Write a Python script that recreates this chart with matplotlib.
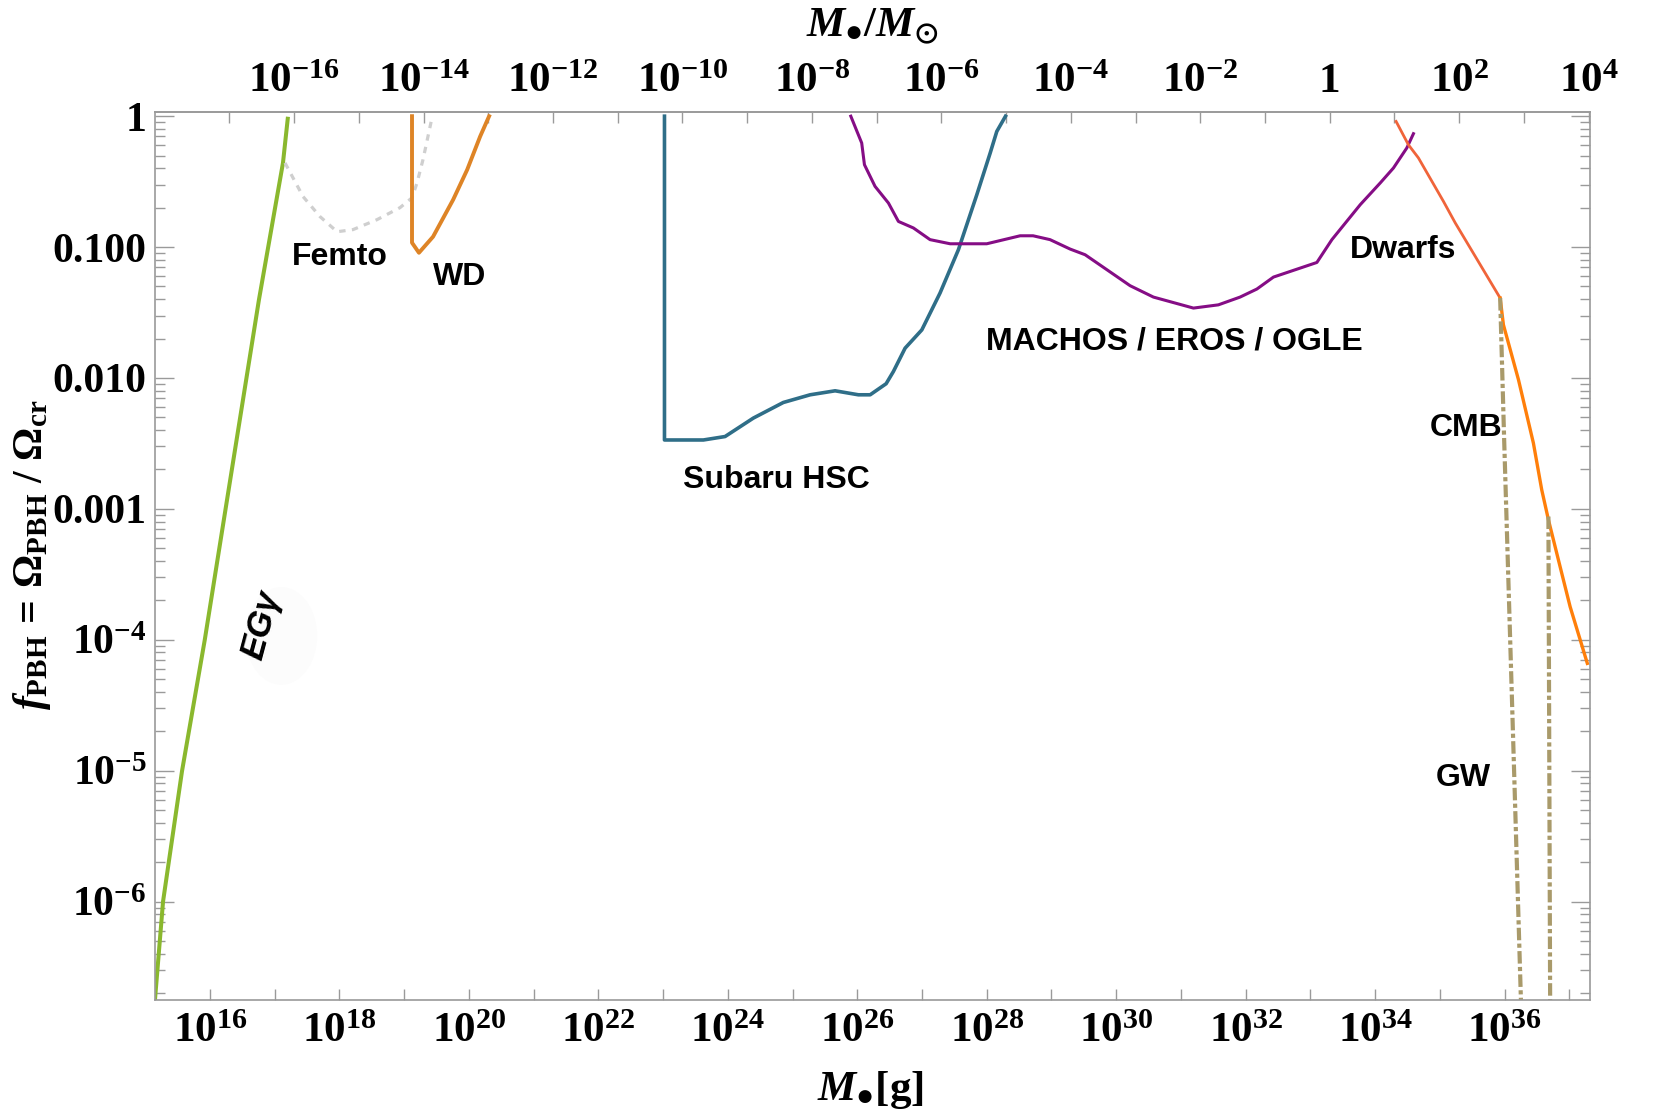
import matplotlib
matplotlib.use("Agg")
import matplotlib.pyplot as plt
from matplotlib.ticker import FixedLocator, FixedFormatter, NullFormatter, LogLocator
from matplotlib.patches import Ellipse

MSUN = 1.989e33  # grams

# ---- data (mass in g, f_PBH) ----
egamma_m = [1.41e15, 1.88e15, 3.69e15, 8.3e15, 1.74e16, 5.7e16, 1.34e17, 1.60e17]
egamma_f = [1.77e-7, 1.0e-6, 9.9e-6, 1.0e-4, 1.0e-3, 0.0396, 0.44, 0.99]

femto_m = [1.44e17, 2.74e17, 5.0e17, 9.2e17, 1.62e18, 3.8e18, 8.6e18, 1.32e19, 1.58e19, 1.95e19, 2.69e19]
femto_f = [0.44, 0.243, 0.171, 0.131, 0.136, 0.162, 0.2, 0.238, 0.31, 0.465, 0.975]

wd_m = [1.32e19, 1.32e19, 1.69e19, 2.79e19, 5.7e19, 9.4e19, 1.49e20, 2.05e20]
wd_f = [1.0, 0.108, 0.0905, 0.12, 0.23, 0.39, 0.70, 1.0]

subaru_m = [1.05e23, 1.05e23, 4.19e23, 9.06e23, 2.48e24, 7.2e24, 1.87e25, 4.54e25, 1.04e26,
            1.58e26, 2.79e26, 3.61e26, 5.48e26, 9.93e26, 1.90e27, 3.65e27, 7.02e27, 1.13e28,
            1.43e28, 1.95e28]
subaru_f = [1.0, 0.00336, 0.00336, 0.00357, 0.00494, 0.0065, 0.00744, 0.00798, 0.00744,
            0.00744, 0.00904, 0.0112, 0.0169, 0.0233, 0.0446, 0.0955, 0.251, 0.523,
            0.765, 1.0]

macho_m = [7.94e25, 1.17e26, 1.29e26, 1.88e26, 3.03e26, 4.32e26, 7.36e26, 1.33e27, 2.72e27,
           1.0e28, 3.28e28, 5.2e28, 9.5e28, 1.94e29, 3.31e29, 7.2e29, 1.64e30, 3.76e30,
           1.56e31, 3.79e31, 8.2e31, 1.49e32, 2.69e32, 1.26e33, 2.15e33, 5.9e33, 1.20e34,
           1.92e34, 3.09e34, 3.91e34]
macho_f = [1.0, 0.624, 0.426, 0.291, 0.217, 0.157, 0.140, 0.114, 0.106,
           0.106, 0.122, 0.122, 0.114, 0.0966, 0.0874, 0.0671, 0.0507, 0.0415,
           0.0342, 0.0362, 0.0415, 0.0478, 0.059, 0.0763, 0.114, 0.211, 0.309,
           0.402, 0.572, 0.735]

dwarf_m = [2.11e34, 3.27e34, 4.67e34, 1.14e35, 1.73e35, 8.55e35]
dwarf_f = [0.912, 0.605, 0.48, 0.223, 0.153, 0.0408]

cmb_m = [8.55e35, 9.6e35, 1.64e36, 2.79e36, 3.75e36, 4.76e36, 7.2e36, 1.03e37, 1.90e37]
cmb_f = [0.0408, 0.0255, 0.0097, 0.00318, 0.0014, 8.26e-4, 3.63e-4, 1.79e-4, 6.6e-5]

gw1_m = [8.55e35, 9.86e35, 1.33e36, 1.79e36]
gw1_f = [0.0408, 0.00337, 2.44e-5, 1.77e-7]
gw2_m = [4.76e36, 5.06e36]
gw2_f = [8.74e-4, 1.77e-7]

x_major = [1e16, 1e18, 1e20, 1e22, 1e24, 1e26, 1e28, 1e30, 1e32, 1e34, 1e36]
x_major_labels = ['$\\mathdefault{10^{%d}}$' % e for e in range(16, 37, 2)]
x_minor = [1e17, 1e19, 1e21, 1e23, 1e25, 1e27, 1e29, 1e31, 1e33, 1e35, 1e37]

top_major = [1e-16, 1e-14, 1e-12, 1e-10, 1e-8, 1e-6, 1e-4, 1e-2, 1, 1e2, 1e4]
top_major_labels = ['$\\mathdefault{10^{-16}}$', '$\\mathdefault{10^{-14}}$', '$\\mathdefault{10^{-12}}$',
                    '$\\mathdefault{10^{-10}}$', '$\\mathdefault{10^{-8}}$', '$\\mathdefault{10^{-6}}$',
                    '$\\mathdefault{10^{-4}}$', '$\\mathdefault{10^{-2}}$', '1',
                    '$\\mathdefault{10^{2}}$', '$\\mathdefault{10^{4}}$']
top_minor = [1e-17, 1e-15, 1e-13, 1e-11, 1e-9, 1e-7, 1e-5, 1e-3, 1e-1, 1e1, 1e3]

y_major = [1e-6, 1e-5, 1e-4, 1e-3, 1e-2, 1e-1, 1]
y_major_labels = ['$\\mathdefault{10^{-6}}$', '$\\mathdefault{10^{-5}}$', '$\\mathdefault{10^{-4}}$',
                  '0.001', '0.010', '0.100', '1']

# ---- style ----
plt.rcParams['font.family'] = ['Liberation Serif', 'DejaVu Serif']
plt.rcParams['font.weight'] = 'bold'
plt.rcParams['mathtext.fontset'] = 'custom'
plt.rcParams['mathtext.rm'] = 'Liberation Serif:bold'
plt.rcParams['mathtext.it'] = 'Liberation Serif:italic:bold'
plt.rcParams['mathtext.bf'] = 'Liberation Serif:bold'
plt.rcParams['mathtext.fallback'] = 'stix'

GREY = '#9a9a9a'
W, H = 1655, 1115

fig = plt.figure(figsize=(W / 100, H / 100), dpi=100)
ax = fig.add_axes([155 / W, 1 - 1000 / H, 1435 / W, 888 / H])

ax.set_xscale('log')
ax.set_yscale('log')
ax.set_xlim(10 ** 15.15, 10 ** 37.32)
ax.set_ylim(10 ** -6.752, 10 ** 0.032)

ax.plot(egamma_m, egamma_f, color='#8ab82e', lw=2.9, solid_capstyle='butt')
ax.plot(femto_m, femto_f, color='#cfcfcf', lw=2.3, linestyle=(0, (2, 2)))
ax.plot(wd_m, wd_f, color='#de8426', lw=2.8)
ax.plot(subaru_m, subaru_f, color='#2f6e88', lw=2.6)
ax.plot(macho_m, macho_f, color='#850d85', lw=2.2)
ax.plot(dwarf_m, dwarf_f, color='#f0643a', lw=2.0)
ax.plot(cmb_m, cmb_f, color='#ff7f0a', lw=2.4)
ax.plot(gw1_m, gw1_f, color='#a99a6a', lw=3.0, linestyle=(0, (3.0, 0.8, 1.0, 0.8)),
        dash_capstyle='butt')
ax.plot(gw2_m, gw2_f, color='#a99a6a', lw=3.0, linestyle=(0, (3.0, 0.8, 1.0, 0.8)),
        dash_capstyle='butt')

# barely visible halo behind the EG gamma label
ax.add_patch(Ellipse((0.088, 0.41), 0.05, 0.11, transform=ax.transAxes,
                     facecolor='#fcfcfc', edgecolor='none', zorder=0))

# ---- labels on curves ----
def put(text, px, py, **kw):
    opts = dict(family='Liberation Sans', weight='bold', fontsize=23, ha='center', va='center')
    opts.update(kw)
    fig.text(px / W, 1 - py / H, text, **opts)


put('Femto', 340, 257)
put('WD', 460, 277)
put('Subaru HSC', 776, 480)
put('MACHOS / EROS / OGLE', 1174, 341)
put('Dwarfs', 1403, 250)
put('CMB', 1466, 428)
put('GW', 1463, 778)
put('EG\u03b3', 261, 625, style='italic', fontsize=25, rotation=75)

# ---- ticks ----
ax.xaxis.set_major_locator(FixedLocator(x_major))
ax.xaxis.set_major_formatter(FixedFormatter(x_major_labels))
ax.xaxis.set_minor_locator(FixedLocator(x_minor))
ax.xaxis.set_minor_formatter(NullFormatter())

ax.yaxis.set_major_locator(FixedLocator(y_major))
ax.yaxis.set_major_formatter(FixedFormatter(y_major_labels))
ax.yaxis.set_minor_locator(LogLocator(base=10, subs=range(2, 10), numticks=20))
ax.yaxis.set_minor_formatter(NullFormatter())

ax.tick_params(axis='x', which='both', direction='in', length=8, width=1, color=GREY,
               top=False, bottom=True, labelsize=31, pad=9)
ax.tick_params(axis='y', which='major', direction='in', length=14, width=1, color=GREY,
               left=True, right=True, labelsize=30, pad=6)
ax.tick_params(axis='y', which='minor', direction='in', length=7, width=1, color=GREY,
               left=True, right=True)
for s in ax.spines.values():
    s.set_color(GREY)
    s.set_linewidth(1.2)

secax = ax.secondary_xaxis('top', functions=(lambda m: m / MSUN, lambda m: m * MSUN))
secax.xaxis.set_major_locator(FixedLocator(top_major))
secax.xaxis.set_major_formatter(FixedFormatter(top_major_labels))
secax.xaxis.set_minor_locator(FixedLocator(top_minor))
secax.xaxis.set_minor_formatter(NullFormatter())
secax.tick_params(axis='x', which='both', direction='in', length=8, width=1, color=GREY,
                  labelsize=31, pad=8)
secax.spines['top'].set_color(GREY)
secax.spines['top'].set_linewidth(1.2)

# ---- axis titles ----
fig.text(870 / W, 1 - 1090 / H, '$M_{\\mathrm{\u25cf}}\\mathrm{[g]}$', fontsize=31,
         ha='center', va='center')
fig.text(872 / W, 1 - 27 / H, '$M_{\\mathrm{\u25cf}}/M_{\\odot}$', fontsize=31,
         ha='center', va='center')
fig.text(32 / W, 1 - 555 / H,
         r'$\mathit{f}_{\mathrm{PBH}}\,=\,\Omega_{\mathrm{PBH}}\ /\ \Omega_{\mathrm{cr}}$',
         fontsize=30, rotation=90, ha='center', va='center')

fig.savefig('out.png', dpi=100)
